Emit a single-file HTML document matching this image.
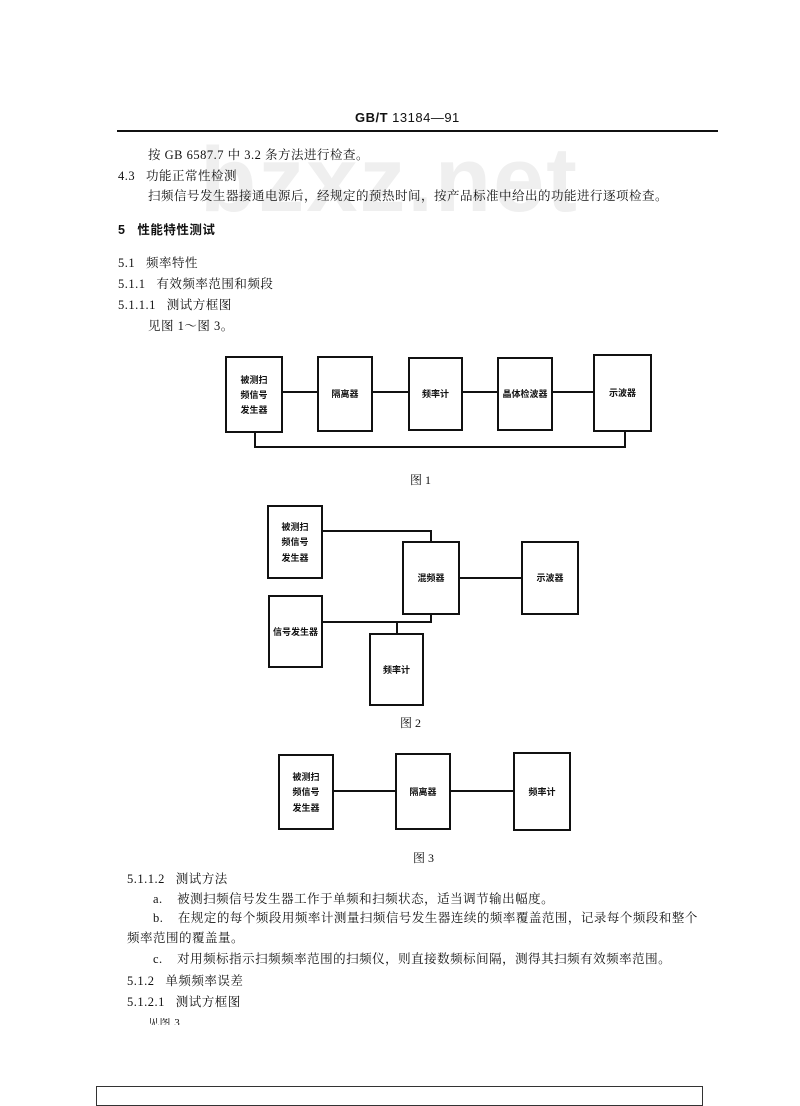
<!DOCTYPE html>
<html><head><meta charset="utf-8"><style>
body{margin:0;width:800px;height:1091px;background:#fff;position:relative;overflow:hidden;font-family:"Liberation Serif","Noto Serif CJK SC","Noto Sans CJK SC",serif;color:#111}
.t{position:absolute;font-size:12.5px;white-space:nowrap;line-height:1;letter-spacing:0.5px}
.wm{position:absolute;left:200px;top:128px;font:bold 92px "Liberation Sans",sans-serif;color:#efefef;letter-spacing:2px}
.b{position:absolute;border:2px solid #111;box-sizing:border-box;display:flex;align-items:center;justify-content:center;text-align:center;font:bold 9px/1.7 "Noto Sans CJK SC",sans-serif}
.h{position:absolute;background:#111;height:2px}
.v{position:absolute;background:#111;width:2px}
.cap{position:absolute;font-size:12px}
</style></head><body>
<div class="wm">bzxz.net</div>
<div class="t" style="left:355px;top:111px;font-size:13px;font-family:'Liberation Sans','Noto Sans CJK SC',sans-serif"><b>GB/T</b> 13184—91</div>
<div class="h" style="left:117px;top:130px;width:601px;height:1.5px"></div>
<div class="t" style="left:148px;top:149px">按 GB 6587.7 中 3.2 条方法进行检查。</div>
<div class="t" style="left:118px;top:170px">4.3&nbsp;&nbsp; 功能正常性检测</div>
<div class="t" style="left:148px;top:190px">扫频信号发生器接通电源后，经规定的预热时间，按产品标准中给出的功能进行逐项检查。</div>
<div class="t" style="left:118px;top:224px;font-weight:bold;font-family:'Liberation Sans','Noto Sans CJK SC',sans-serif">5&nbsp;&nbsp; 性能特性测试</div>
<div class="t" style="left:118px;top:257px">5.1&nbsp;&nbsp; 频率特性</div>
<div class="t" style="left:118px;top:278px">5.1.1&nbsp;&nbsp; 有效频率范围和频段</div>
<div class="t" style="left:118px;top:299px">5.1.1.1&nbsp;&nbsp; 测试方框图</div>
<div class="t" style="left:148px;top:320px">见图 1～图 3。</div>

<div class="b" style="left:225px;top:356px;width:58px;height:77px">被测扫<br>频信号<br>发生器</div>
<div class="b" style="left:317px;top:356px;width:56px;height:76px">隔离器</div>
<div class="b" style="left:408px;top:357px;width:55px;height:74px">频率计</div>
<div class="b" style="left:497px;top:357px;width:56px;height:74px">晶体检波器</div>
<div class="b" style="left:593px;top:354px;width:59px;height:78px">示波器</div>
<div class="h" style="left:283px;top:391px;width:34px"></div>
<div class="h" style="left:373px;top:391px;width:35px"></div>
<div class="h" style="left:463px;top:391px;width:34px"></div>
<div class="h" style="left:553px;top:391px;width:40px"></div>
<div class="v" style="left:254px;top:433px;height:15px"></div>
<div class="v" style="left:624px;top:432px;height:16px"></div>
<div class="h" style="left:254px;top:446px;width:372px"></div>
<div class="cap" style="left:410px;top:471px">图 1</div>

<div class="b" style="left:267px;top:505px;width:56px;height:74px">被测扫<br>频信号<br>发生器</div>
<div class="b" style="left:268px;top:595px;width:55px;height:73px">信号发生器</div>
<div class="b" style="left:402px;top:541px;width:58px;height:74px">混频器</div>
<div class="b" style="left:521px;top:541px;width:58px;height:74px">示波器</div>
<div class="b" style="left:369px;top:633px;width:55px;height:73px">频率计</div>
<div class="h" style="left:323px;top:530px;width:109px"></div>
<div class="v" style="left:430px;top:530px;height:11px"></div>
<div class="h" style="left:460px;top:577px;width:61px"></div>
<div class="h" style="left:323px;top:621px;width:109px"></div>
<div class="v" style="left:430px;top:614px;height:9px"></div>
<div class="v" style="left:396px;top:621px;height:12px"></div>
<div class="cap" style="left:400px;top:714px">图 2</div>

<div class="b" style="left:278px;top:754px;width:56px;height:76px">被测扫<br>频信号<br>发生器</div>
<div class="b" style="left:395px;top:753px;width:56px;height:77px">隔离器</div>
<div class="b" style="left:513px;top:752px;width:58px;height:79px">频率计</div>
<div class="h" style="left:334px;top:790px;width:61px"></div>
<div class="h" style="left:451px;top:790px;width:62px"></div>
<div class="cap" style="left:413px;top:849px">图 3</div>

<div class="t" style="left:127px;top:873px">5.1.1.2&nbsp;&nbsp; 测试方法</div>
<div class="t" style="left:153px;top:893px">a.&nbsp;&nbsp;&nbsp; 被测扫频信号发生器工作于单频和扫频状态，适当调节输出幅度。</div>
<div class="t" style="left:153px;top:912px">b.&nbsp;&nbsp;&nbsp; 在规定的每个频段用频率计测量扫频信号发生器连续的频率覆盖范围，记录每个频段和整个</div>
<div class="t" style="left:127px;top:932px">频率范围的覆盖量。</div>
<div class="t" style="left:153px;top:953px">c.&nbsp;&nbsp;&nbsp; 对用频标指示扫频频率范围的扫频仪，则直接数频标间隔，测得其扫频有效频率范围。</div>
<div class="t" style="left:127px;top:975px">5.1.2&nbsp;&nbsp; 单频频率误差</div>
<div class="t" style="left:127px;top:996px">5.1.2.1&nbsp;&nbsp; 测试方框图</div>
<div style="position:absolute;left:148px;top:1018px;height:7px;overflow:hidden"><div class="t" style="position:static;font-size:11px">见图 3</div></div>
<div style="position:absolute;left:96px;top:1086px;width:607px;height:20px;border:1.5px solid #333;box-sizing:border-box"></div>
</body></html>
